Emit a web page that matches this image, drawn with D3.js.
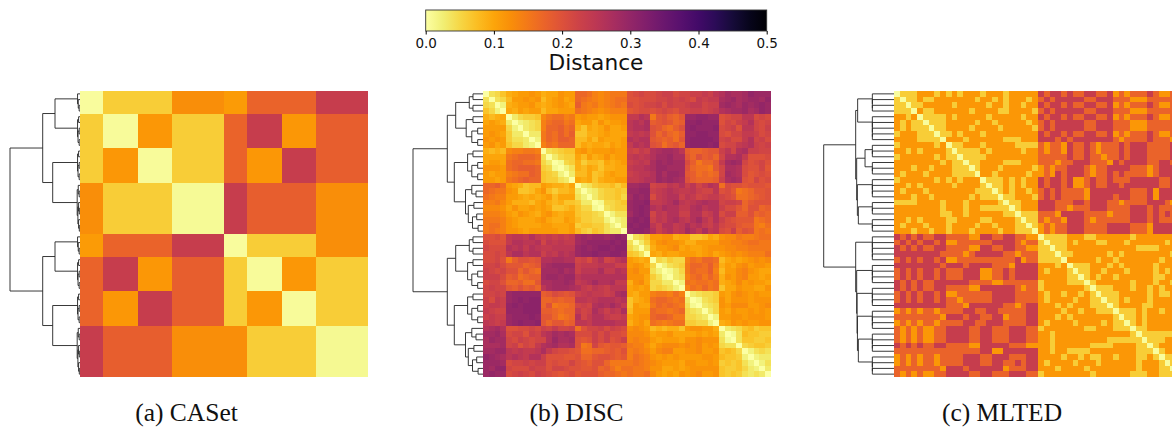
<!DOCTYPE html>
<html>
<head>
<meta charset="utf-8">
<title>Distance heatmaps</title>
<script src="https://cdn.jsdelivr.net/npm/d3@7"></script>
<style>
  html, body { margin: 0; padding: 0; background: #fff; overflow: hidden; }
  .cap { font-family: "Liberation Serif", serif; font-size: 25.5px; text-anchor: middle; fill: #111; }
  .cb text { font-family: "DejaVu Sans", sans-serif; fill: #111; }
</style>
</head>
<body>
<svg id="chart" width="1172" height="427"></svg>
<script>
const captions = ["(a) CASet", "(b) DISC", "(c) MLTED"];
const barTicks = [0, 0.1, 0.2, 0.3, 0.4, 0.5];

// CASet: the matrix is made of flat blocks
const casetSizes = [4, 6, 6, 9, 4, 6, 6, 9];
const casetBlocks = [
  [0.005, 0.060, 0.060, 0.125, 0.110, 0.175, 0.175, 0.235],
  [0.060, 0.006, 0.115, 0.060, 0.175, 0.235, 0.115, 0.180],
  [0.060, 0.115, 0.006, 0.060, 0.175, 0.115, 0.235, 0.180],
  [0.125, 0.060, 0.060, 0.008, 0.235, 0.180, 0.180, 0.125],
  [0.110, 0.175, 0.175, 0.235, 0.005, 0.060, 0.060, 0.125],
  [0.175, 0.235, 0.115, 0.180, 0.060, 0.006, 0.115, 0.060],
  [0.175, 0.115, 0.235, 0.180, 0.060, 0.115, 0.006, 0.060],
  [0.235, 0.180, 0.180, 0.125, 0.125, 0.060, 0.060, 0.010]
];

// DISC: upper triangle, one char per cell, base 36 in hundredths of distance
// (spaces only mark the groups 4,6,6,9,4,6,6,9)
const discRows = [
  "0457 9abbcb 9aacbb hhgedefff klml lmnnlm mnnonp qsrrsuttt",
  "045 8bbcbc 8abcab hgfedefgg kkll lmmnmn mlonoo rstrsttsu",
  "02 9abbca 9abcba ifefdefgf lklm mnlnmm noomnn stsrtstut",
  "0 a9babb 8aabbb gfedcdeee jkll klmlkm mnnmno qrsstrsut",
  "035667 dfggef bcbbabccc ooqp fjkihj ttuutt klmmpplml",
  "02345 eghhfg abb9cabbc pqpr ijkjhi uuvuuu kmlnoqmlm",
  "0345 ehhigh 97a9acaab pqqr kjhgik uvuuuv lmnkppmln",
  "033 fhgigi 7799abaaa opop khjhgi uuvvuu lkmmoonlm",
  "02 fhgiih 88a8baaab qpqq jihigj uvvvvu mnlloqmnl",
  "0 egfhhh 8a9aa9bab oqpq kjgijh uvvvuv lmmopqnmn",
  "045677 bcabbbcbb nmon qrssrp ihhijj npmqrnnmm",
  "03566 a8b9acabb opop qsstrr jhkijh mqqrokkkl",
  "0156 96887a9ab nopo rtstss lifhhj ostsmklmk",
  "024 98a9799aa oppq rttsss khggfj mrrqlkkmj",
  "03 88a78abaa nopp qtrtts jighgh msrqljklk",
  "0 a9a79aabb oopq qtstsr kihhhi nrsrkjmkl",
  "034677868 sstt mnnpoq npmoqp glkkjkkkj",
  "02356676 ttuu nopqpo opnmmp kljfghjjk",
  "0356675 sutu lopqqn pomnoo mlkgghijk",
  "015567 tuuv oopqsp opqrqq mnnmhjkkk",
  "04566 tuvu qprqqo oqrpqq nlljhkkhi",
  "0244 suvu mpoqqn nqqnoq lnniikhih",
  "023 uvuv npoqrp oqspnq nlkjjjfgh",
  "03 vuvv pnqqop rpqonp mlljiifeg",
  "0 uvvu qnpqop sqorop lknikjfgf",
  "0457 bbcc9a a778a9 cddfeefgg",
  "036 acdccb 99bbbb ddeefggff",
  "04 9bbcda baabcc cddeeffff",
  "0 a9baab bbabca bcdcdeeeg",
  "054655 egfhhg 8ababcdcd",
  "02456 fhhgif 9bacdbccb",
  "0135 fhggie 8bbdecbaa",
  "034 eghfhf 9cbdebbab",
  "02 gfggfg 9abdbcbba",
  "0 egfhfg 7aacbbaac",
  "034556 bacdcbcbb",
  "01456 cacccbccc",
  "0345 cbdddbbcd",
  "035 bacbbcbcb",
  "02 bbccbcccb",
  "0 9acbcbbcc",
  "034578677",
  "01487766",
  "0477667",
  "056776",
  "02454",
  "0233",
  "024",
  "03",
  "0"
];

// MLTED: discrete levels. mltedNear lists, per row, the later columns inside
// the two big groups that sit at the lighter level
const mltedNear = [
  [1,2,3,7,9,11,15,19], [2,3,5,6,14,17,19,23], [3,4,10,16,19,22], [5,6,13,18,19,24],
  [5,6,7,8,10,16,22], [6,7,8,14,17,23], [7,8,13,18,24], [8,9,11,15],
  [12,19,20,21], [10,11,15,21,22,23,24], [11,12,13,14,16,22], [12,13,14,15],
  [13,14,19,20,21], [14,18,24], [17,23], [16,17,18,20,22],
  [17,18,20,22], [18,20,23], [19,20,24], [20,21],
  [21], [22,23,24], [23,24], [24], [],
  [26,27,28,29,33,34,41,49], [27,28,29,31,35,36,40,47], [28,29,42,43,44,45], [29,30,37,39,48],
  [35,38,46], [31,32,33,37,39,45], [32,33,36,40,45,47], [33,35,38,45,46],
  [34,41,45,48], [35,36,37,41,44,46,49], [36,37,38,44,46,47], [37,38,40,44],
  [38,43,44], [39,40,41,43,46], [40,41,43], [41,43],
  [42,43,49], [43,44,45,46,47,48,49], [44,45,46,49], [45],
  [46], [47,48,49], [48,49], [49]
];
// rows 25-49 against columns 0-24: o, h, n = orange, red-orange, crimson
const mltedCross = [
  "nhnhnhhnn hhhh oo nn hh nn hh oo",
  "hnhnhnnhn oo hhhhhh nn nn h o hh",
  "nhnhnhhnn hhhh oo nn hh nn hh oo",
  "nnnnnnnn hhhh o h nnn nn hh o h hh",
  "hnhnhnnhn oo hhhhhh hh hh n o hh",
  "nnnnnnnn h nnn h nnnn hhh o nnnn",
  "hnhnhnnhn hhh nnn oo hh n h nnnn",
  "hnhnhnnhn hhh nnn oo hh n h nnnn",
  "nhnhnhhnn nnnn hhhh oo hhhhhh",
  "nhnhnhhnn hhhh oo nn nnnn h o hh",
  "hnhnhnnhn oo hhhhhh nnnn hhhh",
  "hnhnhnnhn hh o hhhhh nnnn hhhh",
  "nnnnnnnnn hhh o nnnn nn hh o h nn",
  "ohohohhoh hhh nn hh n nhhhhhnn",
  "hhhhhhhh o nnn h nn hh nnohhhnn",
  "ohohohhoh hhh nn hh n nnhhhhnn",
  "hohohoohh nnnn hh nn hhh nnn hh",
  "hohohoohh nnnn hh nn hhh nnn hh",
  "hohohoohh nnnn hh nn hhh nnn hh",
  "nhnhnhhnn hhhh oo nn nn n h hh oo",
  "hhhhhhhhh hhhh hh nn oo nnnnnn",
  "ohohohhoh hhh nnn hh nnnhhhnn",
  "ohohohhoh hhh nnn hh nnhhnhnn",
  "hhhhhhhh o nnn h nnnn nnohhhnn",
  "hohohoohh nnnn hh nn hhh nnn hh"
];
const mltedLevels = { self: 0.004, near: 0.06, o: 0.115, h: 0.175, n: 0.235 };

// Dendrograms: [height, left, right], 0 is a leaf, root height is 1
const casetFour = [0.035, 0, [0.025, 0, [0.012, 0, 0]]];
const casetSix = [0.035, [0.02, 0, 0], [0.028, [0.012, 0, 0], [0.012, 0, 0]]];
const casetNine = [0.04, [0.025, 0, [0.012, 0, 0]], [0.03, [0.02, 0, [0.01, 0, 0]], [0.02, 0, [0.01, 0, 0]]]];
const casetTree = [1,
  [0.533, [0.357, casetFour, casetSix], [0.39, casetSix, casetNine]],
  [0.533, [0.357, casetFour, casetSix], [0.39, casetSix, casetNine]]
];

const discFour = [0.196, [0.143, 0, 0], [0.143, 0, 0]];
const discSixA = [0.24, [0.143, 0, 0], [0.16, [0.076, 0, 0], [0.076, 0, 0]]];
const discSixB = [0.22, [0.143, 0, 0], [0.16, [0.076, 0, 0], [0.076, 0, 0]]];
const discNine = [0.25, [0.16, 0, [0.1, 0, 0]], [0.21, [0.13, 0, 0], [0.15, [0.09, 0, 0], [0.07, 0, 0]]]];
const discTree = [1,
  [0.51, [0.39, discFour, discSixA], [0.41, discSixB, discNine]],
  [0.51, [0.39, discFour, discSixB], [0.41, discSixB, discNine]]
];

const m3 = [0.308, 0, [0.308, 0, 0]];
const m4 = [0.308, 0, [0.308, 0, [0.308, 0, 0]]];
const m5 = [0.308, 0, [0.308, 0, [0.308, 0, [0.308, 0, 0]]]];
const mltedTree = [1,
  [0.545,
    [0.517, m4, m5],
    [0.531, [0.412, m3, m3], [0.521, m4, [0.507, m3, m3]]]],
  [0.545,
    m5,
    [0.531, m4, [0.525, m4, [0.52, m4, [0.507, m4, m4]]]]]
];

const svg = d3.select("#chart");
const color = d3.scaleSequential(t => d3.interpolateInferno(1 - t)).domain([0, 0.5]);
const indices = d3.range(50);

function clean(s) { return s.replace(/ /g, ""); }

function emptyMatrix() {
  return indices.map(() => indices.map(() => 0));
}

function buildCaset() {
  const owner = casetSizes.flatMap((n, g) => d3.range(n).map(() => g));
  return owner.map(a => owner.map(b => casetBlocks[a][b]));
}

function buildDisc() {
  const m = emptyMatrix();
  discRows.forEach((row, i) => {
    Array.from(clean(row)).forEach((ch, k) => {
      const v = parseInt(ch, 36) / 100;
      m[i][i + k] = v;
      m[i + k][i] = v;
    });
  });
  return m;
}

function buildMlted() {
  const m = emptyMatrix();
  indices.forEach(i => indices.forEach(j => {
    m[i][j] = i === j ? mltedLevels.self : mltedLevels.o;
  }));
  mltedNear.forEach((cols, i) => cols.forEach(j => {
    m[i][j] = mltedLevels.near;
    m[j][i] = mltedLevels.near;
  }));
  mltedCross.forEach((row, r) => {
    Array.from(clean(row)).forEach((ch, c) => {
      m[25 + r][c] = mltedLevels[ch];
      m[c][25 + r] = mltedLevels[ch];
    });
  });
  return m;
}

const panels = [
  { matrix: buildCaset(), tree: casetTree, left: 80, root: 10, caption: captions[0], capX: 186.5 },
  { matrix: buildDisc(), tree: discTree, left: 483, root: 413, caption: captions[1], capX: 576.5 },
  { matrix: buildMlted(), tree: mltedTree, left: 894, root: 823.7, caption: captions[2], capX: 1002 }
];

panels.forEach(p => {
  const g = svg.append("g");
  const x = d3.scaleBand().domain(indices).range([p.left, p.left + 288]);
  const y = d3.scaleBand().domain(indices).range([91, 377]);

  // heatmap, cells overlap a little so no seams show
  g.append("g").attr("shape-rendering", "crispEdges")
    .selectAll("g")
    .data(p.matrix)
    .join("g")
    .selectAll("rect")
    .data((row, i) => row.map((v, j) => ({ i, j, v })))
    .join("rect")
    .attr("x", d => x(d.j))
    .attr("y", d => y(d.i))
    .attr("width", d => x.bandwidth() + (d.j < 49 ? 0.5 : 0))
    .attr("height", d => y.bandwidth() + (d.i < 49 ? 0.5 : 0))
    .attr("fill", d => color(d.v));

  // dendrogram
  const h = d3.scaleLinear().domain([0, 1]).range([p.left, p.root]);
  const root = d3.hierarchy(p.tree, d => Array.isArray(d) ? d.slice(1) : null);
  const height = n => n.children ? n.data[0] : 0;
  let leafNo = 0;
  root.eachAfter(n => {
    n.py = n.children ? d3.mean(n.children, c => c.py) : y(leafNo++) + y.bandwidth() / 2;
  });
  const links = root.descendants().filter(n => n.children);
  g.append("g").selectAll("path")
    .data(links)
    .join("path")
    .attr("fill", "none")
    .attr("stroke", "#222")
    .attr("stroke-width", 0.9)
    .attr("d", n => {
      const [a, b] = n.children;
      const path = d3.path();
      path.moveTo(h(height(a)), a.py);
      path.lineTo(h(height(n)), a.py);
      path.lineTo(h(height(n)), b.py);
      path.lineTo(h(height(b)), b.py);
      return path.toString();
    });

  g.append("text").attr("class", "cap").attr("x", p.capX).attr("y", 421).text(p.caption);
});

// colour bar
const barX = d3.scaleLinear().domain([0, 0.5]).range([425.7, 766.7]);
const defs = svg.append("defs");
const grad = defs.append("linearGradient").attr("id", "bar");
d3.range(0, 1.0001, 0.05).forEach(t => {
  grad.append("stop")
    .attr("offset", t)
    .attr("stop-color", color(t * 0.5));
});
const cb = svg.append("g").attr("class", "cb");
cb.append("rect")
  .attr("x", barX(0))
  .attr("y", 10)
  .attr("width", barX(0.5) - barX(0))
  .attr("height", 21)
  .attr("fill", "url(#bar)")
  .attr("stroke", "#333")
  .attr("stroke-width", 0.9);
const axis = cb.append("g")
  .attr("transform", "translate(0,31)")
  .call(d3.axisBottom(barX).tickValues(barTicks).tickFormat(d3.format(".1f")).tickSize(3.5).tickPadding(4));
axis.select(".domain").remove();
axis.selectAll("text").style("font-size", "13.5px");
cb.append("text")
  .attr("x", 596)
  .attr("y", 70)
  .attr("text-anchor", "middle")
  .style("font-size", "21.7px")
  .text("Distance");
</script>
</body>
</html>
